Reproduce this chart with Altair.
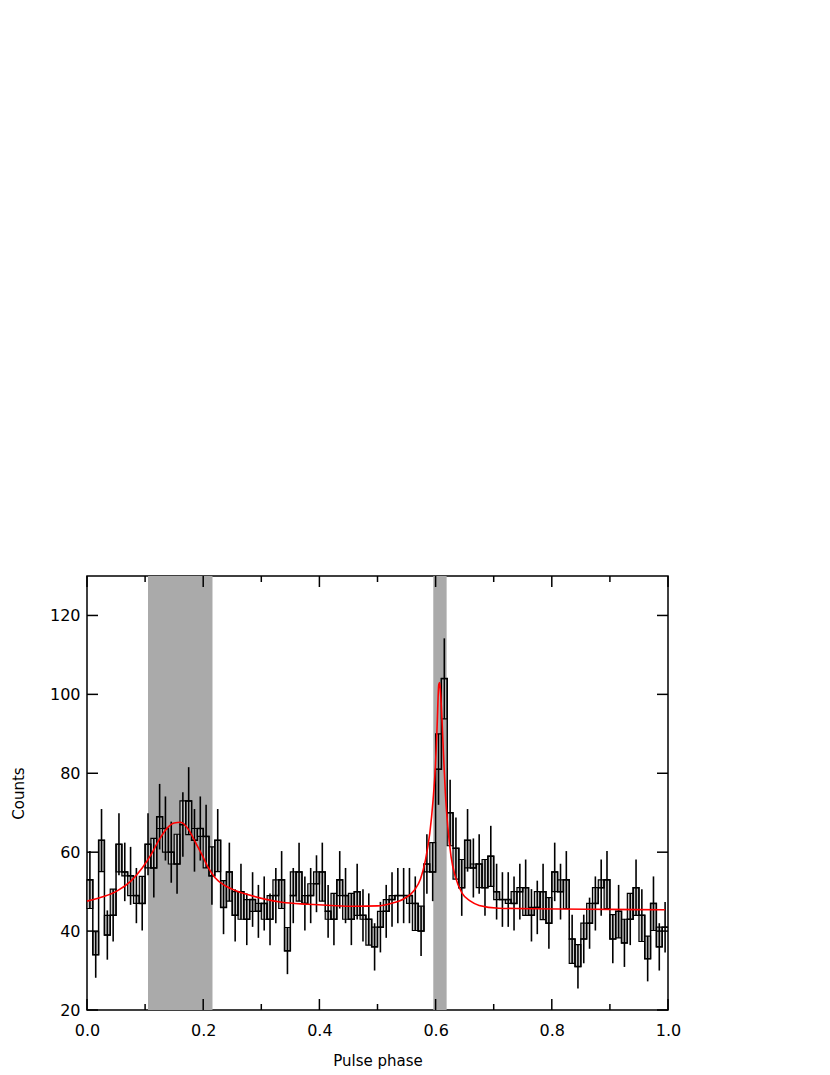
import altair as alt
import pandas as pd
import numpy as np

# ---- data ----
counts = [53, 34, 63, 39, 44, 62, 55, 54, 49, 47,
          62, 56, 69, 66, 60, 57, 67, 73, 63, 66,
          64, 54, 63, 46, 55, 44, 50, 43, 48, 45,
          47, 43, 49, 53, 35, 49, 55, 47, 49, 52,
          55, 45, 43, 53, 49, 43, 50, 44, 43, 36,
          41, 45, 48, 49, 49, 49, 47, 40, 57, 55,
          81, 104, 70, 61, 51, 63, 56, 57, 51, 59,
          50, 48, 48, 47, 50, 51, 44, 46, 50, 42,
          55, 50, 53, 38, 31, 38, 42, 47, 51, 53,
          38, 45, 37, 43, 51, 44, 33, 47, 36, 41]

band_start = [0.105, 0.596]
band_end = [0.216, 0.619]

model_phase = [0.0, 0.03, 0.052, 0.075, 0.095, 0.11, 0.124, 0.138, 0.15, 0.161,
               0.175, 0.186, 0.198, 0.209, 0.22, 0.238, 0.255, 0.278, 0.306, 0.335,
               0.38, 0.42, 0.46, 0.5, 0.523, 0.5455, 0.563, 0.574, 0.5825, 0.59,
               0.5957, 0.5997, 0.6026, 0.6055, 0.607, 0.6085, 0.611, 0.614, 0.6168, 0.621,
               0.6266, 0.634, 0.6455, 0.66, 0.675, 0.709, 0.75, 0.812, 0.9, 0.995]
model_counts = [47.6, 48.8, 50.2, 52.6, 56.0, 59.3, 63.1, 66.1, 67.4, 67.6,
                65.7, 62.7, 59.3, 56.0, 53.6, 51.5, 50.3, 49.2, 48.1, 47.3,
                46.8, 46.5, 46.3, 46.4, 47.0, 48.2, 50.3, 53.2, 58.0, 64.8,
                73.3, 81.8, 91.9, 102.5, 103.0, 100.5, 93.6, 83.5, 75.0, 66.5,
                58.9, 53.8, 49.6, 47.6, 46.5, 45.8, 45.7, 45.6, 45.5, 45.4]

y_ticks = [20, 40, 60, 80, 100, 120]
x_major = [0.0, 0.2, 0.4, 0.6, 0.8, 1.0]
x_minor = [0.1, 0.3, 0.5, 0.7, 0.9]

W, H = 581, 434
FONT = "DejaVu Sans"

nb = len(counts)
idx = np.arange(nb)
c = np.array(counts, dtype=float)
err = np.sqrt(c)
nxt = np.append(c[1:], c[-1])
box_end = np.clip(nxt, c - err, c + err)

bins = pd.DataFrame({
    "left": idx / nb,
    "right": (idx + 1) / nb,
    "center": (idx + 0.5) / nb,
    "counts": c,
    "lo": c - err,
    "hi": c + err,
    "box_end": box_end,
})
step = pd.DataFrame({"phase": list(idx / nb) + [1.0],
                     "counts": list(c) + [c[-1]]})
bands = pd.DataFrame({"start": band_start, "end": band_end})
model = pd.DataFrame({"phase": model_phase, "counts": model_counts})
yt = pd.DataFrame({"v": y_ticks})
xM = pd.DataFrame({"v": x_major})
xm = pd.DataFrame({"v": x_minor})

xs = alt.Scale(domain=[0, 1], nice=False, zero=False)
ys = alt.Scale(domain=[20, 130], nice=False, zero=False)

x_axis = alt.Axis(values=x_major, format=".1f", ticks=False, domain=False,
                  grid=False, labelFontSize=16, labelPadding=12,
                  labelFlush=False, labelAlign="center",
                  title="Pulse phase", titleFontSize=15,
                  titleFontWeight="normal", titleY=55,
                  titleBaseline="alphabetic")
y_axis = alt.Axis(values=y_ticks, ticks=False, domain=False, grid=False,
                  labelFontSize=16, labelPadding=7, labelFlush=False,
                  title="Counts", titleFontSize=15,
                  titleFontWeight="normal", titleX=-64, titleY=H / 2,
                  titleAngle=-90, titleBaseline="alphabetic")


def X(f):
    return alt.X(f, scale=xs, axis=x_axis, title="Pulse phase")


def Y(f):
    return alt.Y(f, scale=ys, axis=y_axis, title="Counts")


band_layer = alt.Chart(bands).mark_rect(color="#aaaaaa").encode(
    x=X("start:Q"), x2="end:Q",
    y=alt.value(0), y2=alt.value(H),
)

box_layer = alt.Chart(bins).mark_rect(fill="#cccccc", stroke="black",
                                      strokeWidth=1.2).encode(
    x=X("left:Q"), x2="right:Q",
    y=Y("counts:Q"), y2="box_end:Q",
)

err_layer = alt.Chart(bins).mark_rule(color="black", strokeWidth=1.6).encode(
    x=X("center:Q"),
    y=Y("lo:Q"), y2="hi:Q",
)

step_layer = alt.Chart(step).mark_line(color="black", strokeWidth=1.5,
                                        interpolate="step-after").encode(
    x=X("phase:Q"),
    y=Y("counts:Q"),
)

model_layer = alt.Chart(model).mark_line(color="#ff0000", strokeWidth=1.6,
                                          interpolate="monotone").encode(
    x=X("phase:Q"),
    y=Y("counts:Q"),
)

tick_kw = dict(color="black", strokeWidth=1.5)
left_ticks = alt.Chart(yt).mark_rule(**tick_kw).encode(
    y=Y("v:Q"), x=alt.value(0), x2=alt.value(11))
right_ticks = alt.Chart(yt).mark_rule(**tick_kw).encode(
    y=Y("v:Q"), x=alt.value(W - 11), x2=alt.value(W))
bot_major = alt.Chart(xM).mark_rule(**tick_kw).encode(
    x=X("v:Q"), y=alt.value(H), y2=alt.value(H - 11))
bot_minor = alt.Chart(xm).mark_rule(**tick_kw).encode(
    x=X("v:Q"), y=alt.value(H), y2=alt.value(H - 6))
top_major = alt.Chart(xM).mark_rule(**tick_kw).encode(
    x=X("v:Q"), y=alt.value(0), y2=alt.value(11))
top_minor = alt.Chart(xm).mark_rule(**tick_kw).encode(
    x=X("v:Q"), y=alt.value(0), y2=alt.value(6))

chart = alt.layer(
    band_layer, box_layer, err_layer, step_layer, model_layer,
    left_ticks, right_ticks, bot_major, bot_minor, top_major, top_minor,
).properties(
    width=W, height=H,
    autosize=alt.AutoSizeParams(type="none"),
    padding={"left": 79, "top": 568, "right": 20, "bottom": 64},
).configure_view(
    stroke="black", strokeWidth=1.5
).configure_axis(
    labelFont=FONT, titleFont=FONT, labelColor="black", titleColor="black"
)

chart.save("out.html", embed_options={"renderer": "svg", "actions": False})
